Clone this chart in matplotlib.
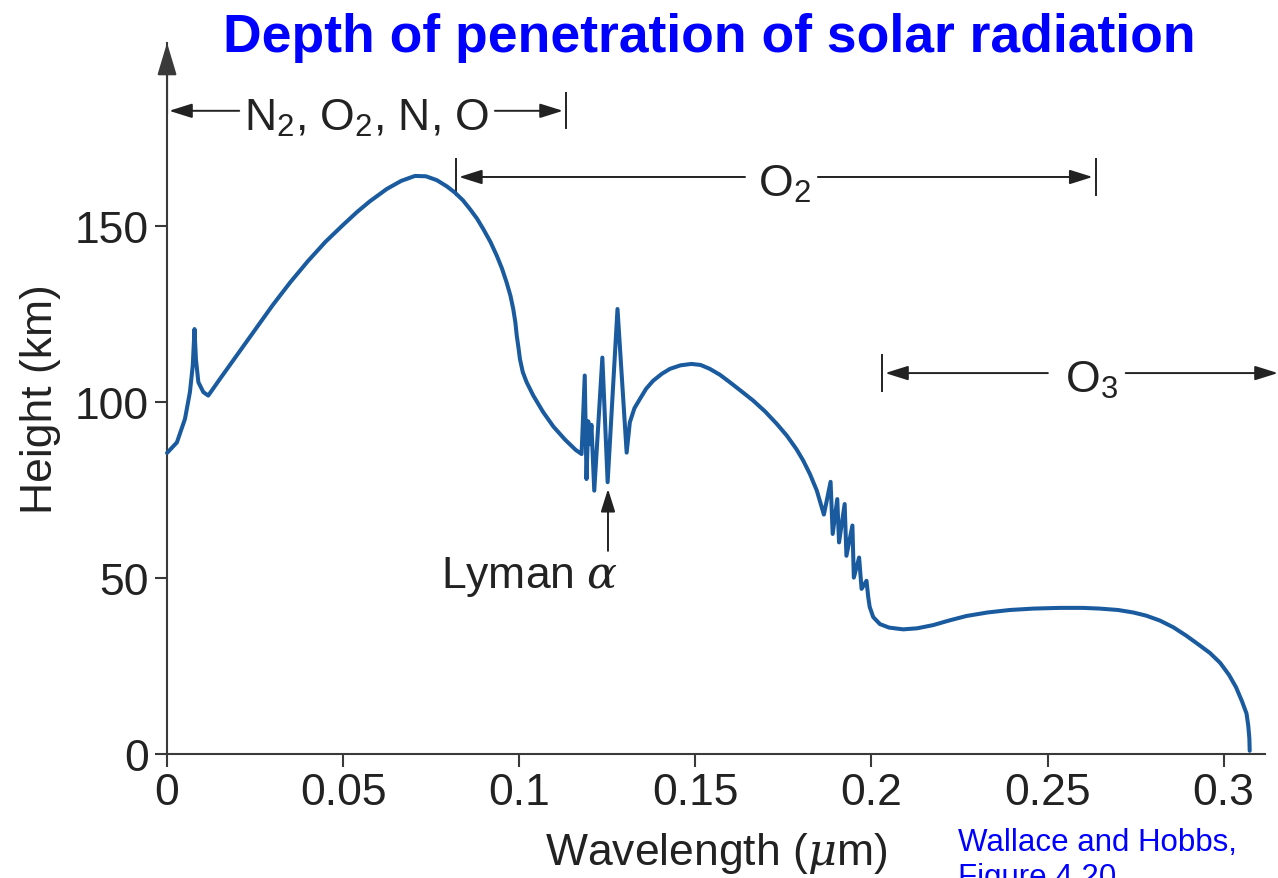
import matplotlib
matplotlib.use("Agg")
import matplotlib.pyplot as plt

plt.rcParams["font.family"] = ["Liberation Sans", "DejaVu Sans"]
plt.rcParams["mathtext.fontset"] = "custom"
plt.rcParams["mathtext.rm"] = "Liberation Sans"
plt.rcParams["mathtext.sf"] = "Liberation Sans"
plt.rcParams["mathtext.it"] = "DejaVu Serif:italic"

# Height at which solar radiation is absorbed, by wavelength (um -> km)
wavelength = [
    0.0000, 0.0028, 0.0051, 0.0065, 0.0073, 0.0078, 0.0082, 0.0089, 0.0103, 0.0117,
    0.0150, 0.0200, 0.0250, 0.0300, 0.0350, 0.0400, 0.0450, 0.0500, 0.0540, 0.0576,
    0.0624, 0.0665, 0.0704, 0.0735, 0.0766, 0.0795, 0.0817, 0.0840, 0.0860, 0.0880,
    0.0898, 0.0918, 0.0936, 0.0951, 0.0964, 0.0975, 0.0983, 0.0989, 0.0993, 0.0998,
    0.1002, 0.1010, 0.1021, 0.1040, 0.1068, 0.1097, 0.1130, 0.1160, 0.1177,
    # Lyman alpha band
    0.1186, 0.1191, 0.1196, 0.1201, 0.1205, 0.1213, 0.1236, 0.1251, 0.1279, 0.1305,
    0.1314, 0.1327, 0.1343, 0.1360, 0.1380, 0.1405, 0.1428, 0.1458, 0.1489, 0.1515,
    0.1541, 0.1570, 0.1598, 0.1630, 0.1664, 0.1698, 0.1731, 0.1760, 0.1787, 0.1806,
    0.1825, 0.1845, 0.1865,
    # Schumann-Runge bands
    0.1884, 0.1890, 0.1903, 0.1908, 0.1924, 0.1929, 0.1946, 0.1950, 0.1965, 0.1972,
    0.1986, 0.1991, 0.1995, 0.2005, 0.2024, 0.2050, 0.2090, 0.2130, 0.2175, 0.2220,
    0.2270, 0.2330, 0.2393, 0.2460, 0.2535, 0.2600, 0.2648, 0.2700, 0.2743, 0.2780,
    0.2819, 0.2857, 0.2894, 0.2930, 0.2961, 0.2990, 0.3015, 0.3035, 0.3052, 0.3065,
    0.3070, 0.3073, 0.3074,
]
height = [
    85.5, 88.5, 95.2, 102.8, 110.3, 120.7, 112.2, 105.6, 102.8, 101.8,
    106.5, 113.5, 120.5, 127.5, 134.0, 140.0, 145.5, 150.3, 154.0, 157.0,
    160.5, 162.8, 164.2, 164.1, 163.0, 161.2, 159.5, 157.3, 154.8, 152.1,
    149.1, 145.5, 141.6, 137.9, 134.0, 130.2, 126.4, 122.6, 118.8, 115.3,
    112.2, 108.5, 105.6, 101.8, 97.1, 93.0, 89.3, 86.4, 85.2,
    107.5, 78.1, 94.5, 88.0, 93.5, 74.8, 112.6, 77.2, 126.4, 85.6,
    94.2, 98.2, 100.9, 103.7, 106.0, 108.0, 109.4, 110.4, 110.8, 110.5,
    109.4, 107.7, 105.6, 103.1, 100.4, 97.3, 93.8, 90.4, 86.6, 83.4,
    79.6, 74.8, 68.0,
    77.3, 62.5, 72.4, 60.1, 71.0, 56.3, 64.9, 50.1, 55.8, 46.9,
    49.2, 44.5, 41.8, 38.9, 36.9, 35.9, 35.4, 35.7, 36.6, 37.9,
    39.2, 40.2, 40.9, 41.3, 41.5, 41.5, 41.3, 40.9, 40.2, 39.3,
    37.9, 36.0, 33.6, 31.0, 28.7, 25.9, 22.5, 19.0, 15.0, 11.5,
    8.0, 4.5, 0.9,
]

x_ticks = [0, 0.05, 0.1, 0.15, 0.2, 0.25, 0.3]
x_ticklabels = ["0", "0.05", "0.1", "0.15", "0.2", "0.25", "0.3"]
y_ticks = [0, 50, 100, 150]

# absorber ranges: (label, start, end, row height, label position)
absorbers = [
    (r"N$_\mathrm{2}$, O$_\mathrm{2}$, N, O", 0.0006, 0.1133, 182.7, 0.0568),
    (r"O$_\mathrm{2}$", 0.0820, 0.2637, 163.9, 0.1754),
    (r"O$_\mathrm{3}$", 0.2030, 0.3154, 108.2, 0.2626),
]
label_gap = {0: (0.0205, 0.0931), 1: (0.1641, 0.1848), 2: (0.2501, 0.2722)}
bar_left = [False, True, True]
bar_right = [True, True, False]

ink = "#222222"
axis_col = "#3a3a3a"
curve_col = "#1a5a9e"
fs = 32

fig = plt.figure(figsize=(12.78, 8.79), dpi=100)
ax = fig.add_axes([0.1307, 0.1411, 0.859, 0.809])

ax.plot(wavelength, height, color=curve_col, lw=2.9, solid_joinstyle="round",
        solid_capstyle="round", clip_on=False, zorder=3)

ax.set_xlim(0, 0.3117)
ax.set_ylim(0, 202)
ax.set_xticks(x_ticks)
ax.set_xticklabels(x_ticklabels)
ax.set_yticks(y_ticks)
for side in ["top", "right"]:
    ax.spines[side].set_visible(False)
for side in ["left", "bottom"]:
    ax.spines[side].set_color(axis_col)
    ax.spines[side].set_linewidth(1.5)
ax.tick_params(direction="out", length=9, width=1.5, color=axis_col,
               labelsize=fs, labelcolor=ink, pad=4)

ax.set_xlabel(r"Wavelength ($\mu$m)", fontsize=fs, color=ink, labelpad=12)
ax.set_ylabel("Height (km)", fontsize=fs, color=ink, labelpad=10)

# arrow head on top of the height axis
ax.annotate("", xy=(0, 1.0), xytext=(0, 0.9), xycoords="axes fraction",
            arrowprops=dict(arrowstyle="-|>,head_length=1.0,head_width=0.3",
                            color=axis_col, lw=1.5, mutation_scale=20,
                            shrinkA=0, shrinkB=0))

arrow_kw = dict(arrowstyle="-|>,head_length=0.7,head_width=0.22", color=ink,
                lw=1.4, mutation_scale=20, shrinkA=0, shrinkB=0)
for i, (label, x0, x1, yrow, xlab) in enumerate(absorbers):
    g0, g1 = label_gap[i]
    ax.annotate("", xy=(x0 + (0.0009 if bar_left[i] else 0), yrow),
                xytext=(g0, yrow), arrowprops=arrow_kw, annotation_clip=False)
    ax.annotate("", xy=(x1 - (0.0009 if bar_right[i] else 0), yrow),
                xytext=(g1, yrow), arrowprops=arrow_kw, annotation_clip=False)
    for flag, xb in [(bar_left[i], x0), (bar_right[i], x1)]:
        if flag:
            ax.plot([xb, xb], [yrow - 5, yrow + 5], color=ink, lw=1.4,
                    clip_on=False)
    ax.text(xlab, yrow - 5.2, label, fontsize=fs, color=ink, ha="center",
            va="baseline", clip_on=False)

# Lyman alpha marker
ax.annotate("", xy=(0.1252, 75.3), xytext=(0.1252, 57.7), arrowprops=arrow_kw)
ax.text(0.1028, 47.4, r"Lyman $\alpha$", fontsize=fs, color=ink, ha="center",
        va="baseline")

fig.text(0.555, 0.9563, "Depth of penetration of solar radiation", fontsize=38.5,
         fontweight="bold", color="#0000ff", ha="center", va="center")
fig.text(0.7496, 0.058, "Wallace and Hobbs,\nFigure 4.20", fontsize=22.5,
         color="#0000ff", ha="left", va="top", linespacing=1.2)

fig.savefig("out.png", dpi=100)
